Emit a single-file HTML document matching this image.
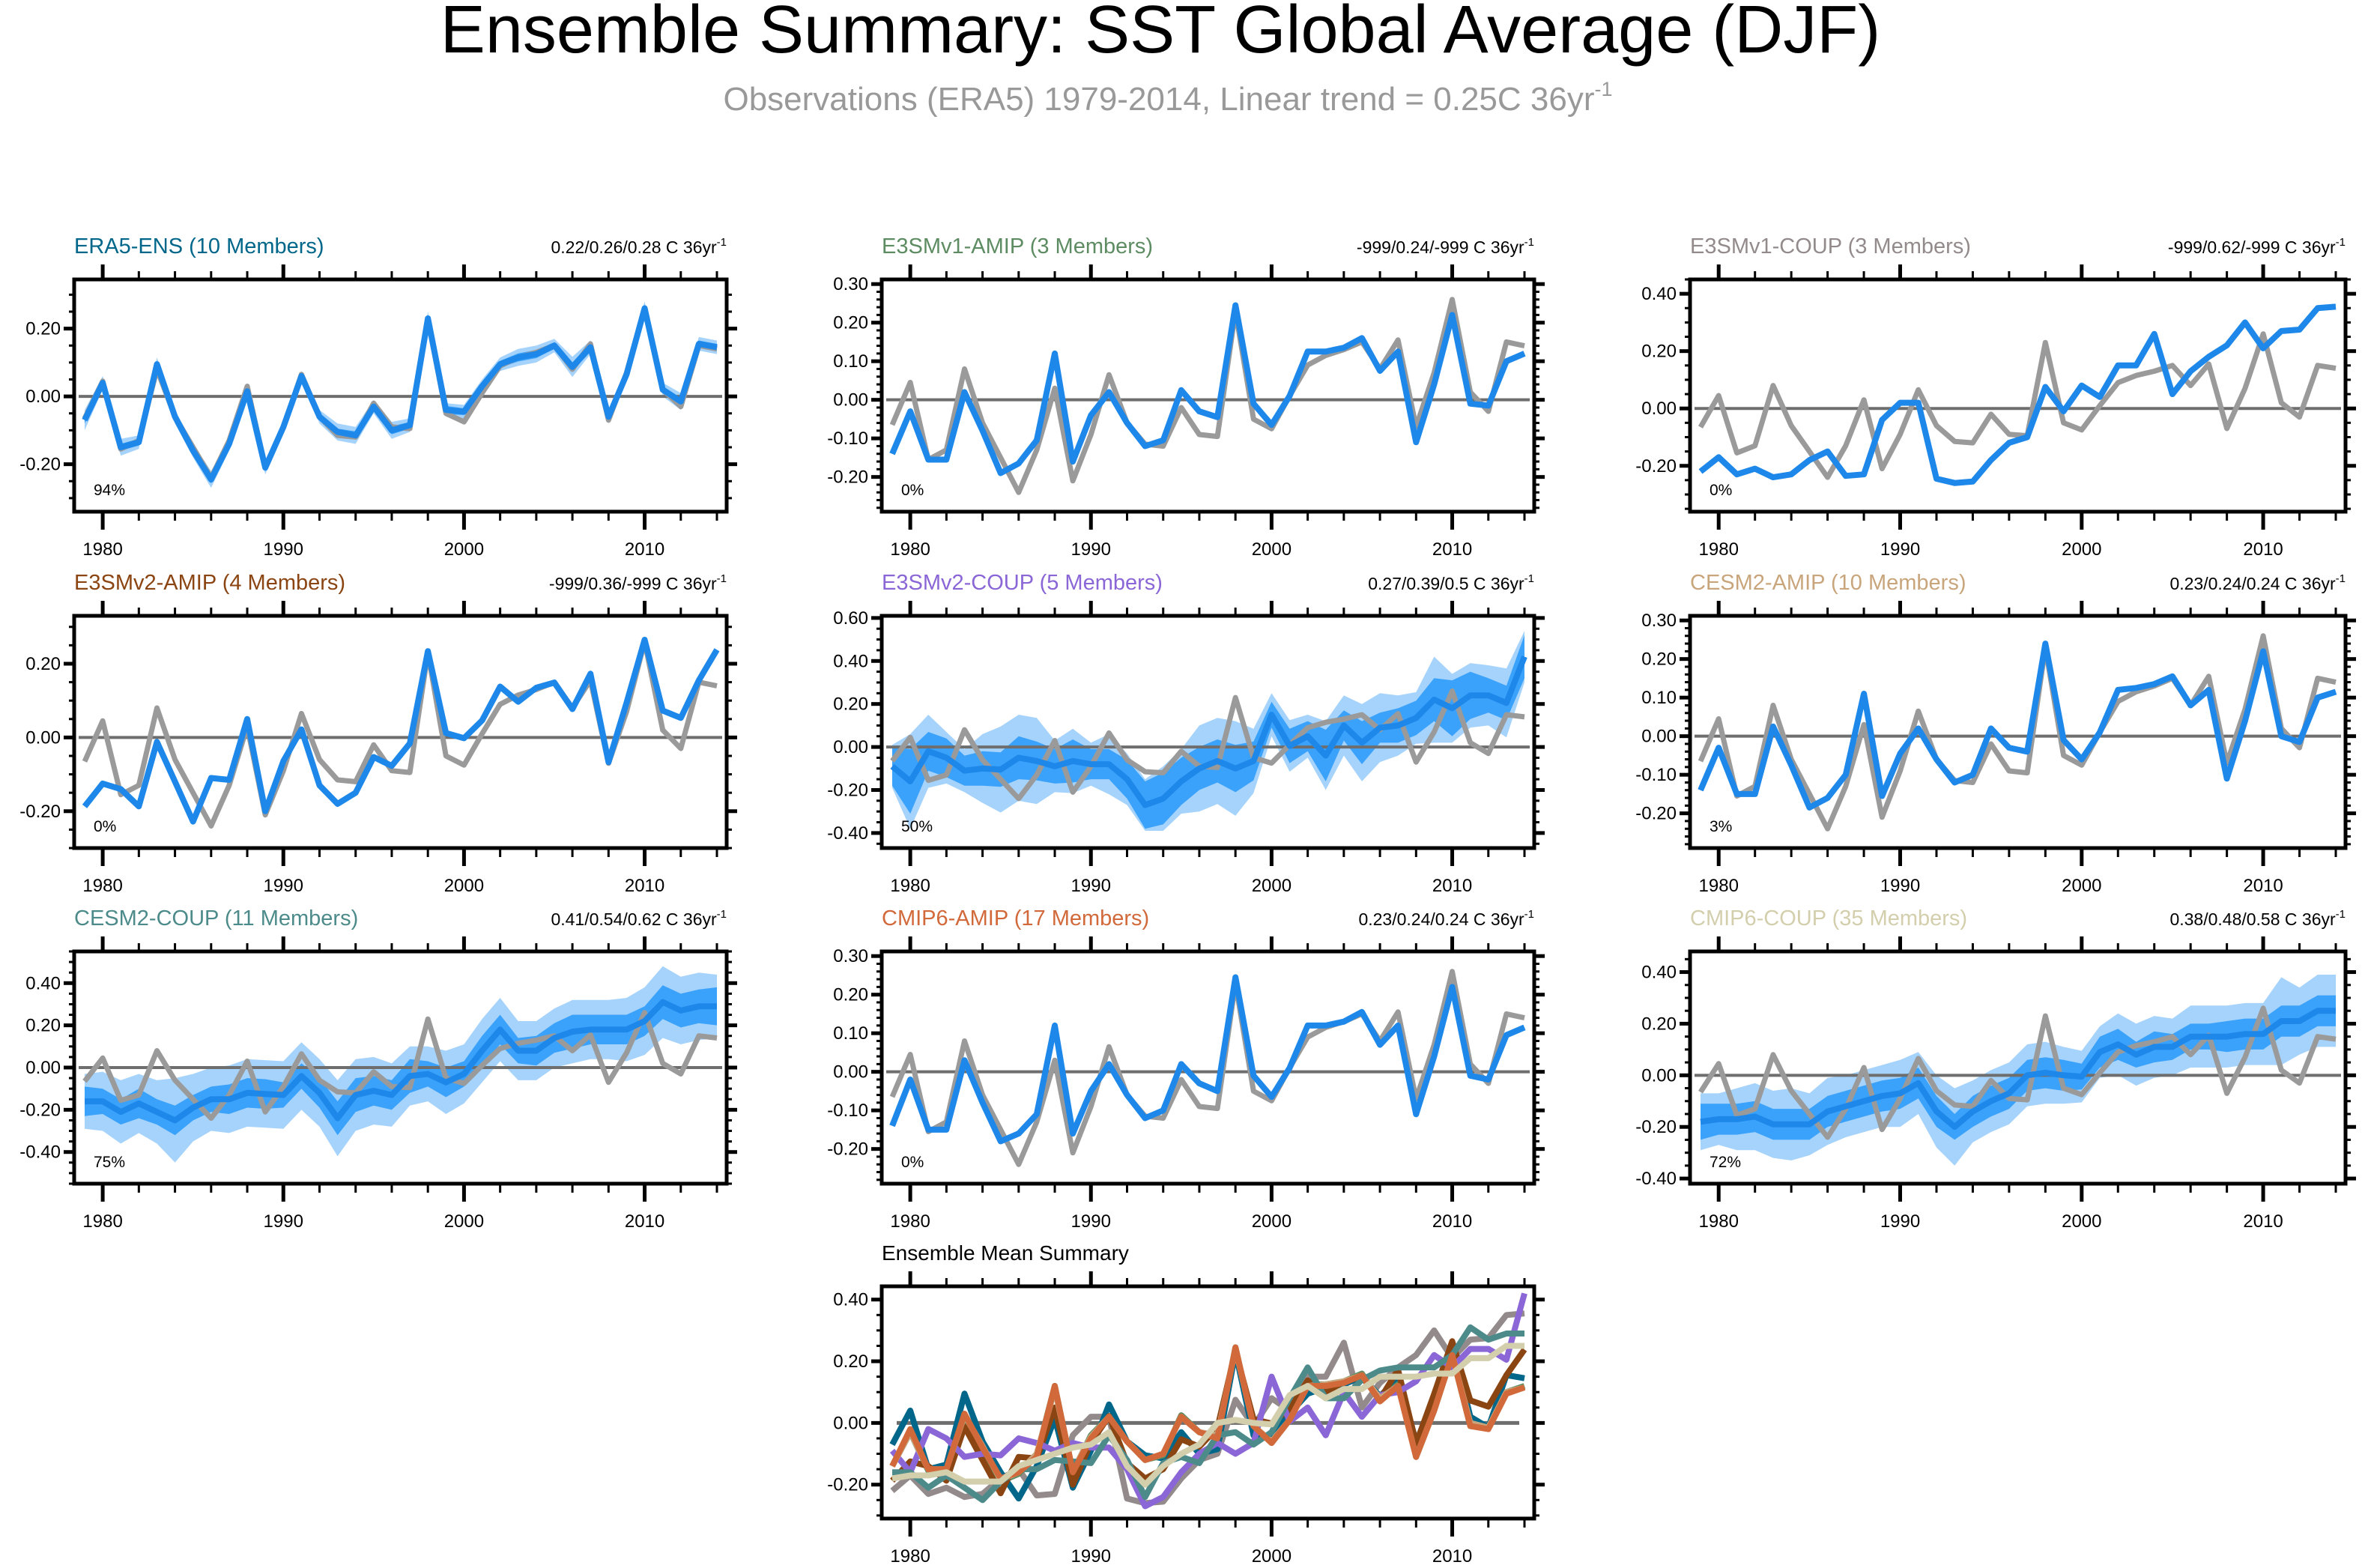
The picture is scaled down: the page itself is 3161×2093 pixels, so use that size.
<!DOCTYPE html>
<html><head><meta charset="utf-8"><style>
html,body{margin:0;padding:0;background:#fff;}
svg{display:block;font-family:"Liberation Sans",Arial,sans-serif;}
</style></head><body>
<svg id="chart" width="3161" height="2093" viewBox="0 0 3161 2093" xmlns="http://www.w3.org/2000/svg">
<rect width="3161" height="2093" fill="#fff"/>
<text x="1549" y="70" font-size="90" text-anchor="middle" fill="#000">Ensemble Summary: SST Global Average (DJF)</text>
<text x="1559" y="147" font-size="44" text-anchor="middle" fill="#999">Observations (ERA5) 1979-2014, Linear trend = 0.25C 36yr<tspan font-size="27" dy="-19">-1</tspan></text>
<g id="plots"></g>
</svg>
<script>
const years = [1979,1980,1981,1982,1983,1984,1985,1986,1987,1988,1989,1990,1991,1992,1993,1994,1995,1996,1997,1998,1999,2000,2001,2002,2003,2004,2005,2006,2007,2008,2009,2010,2011,2012,2013,2014];
const obs = [-0.065,0.045,-0.155,-0.13,0.08,-0.06,-0.15,-0.24,-0.13,0.03,-0.21,-0.09,0.065,-0.06,-0.115,-0.12,-0.02,-0.09,-0.095,0.23,-0.05,-0.075,0.01,0.09,0.115,0.13,0.15,0.08,0.155,-0.07,0.07,0.26,0.02,-0.03,0.15,0.14];
const era5Mean = [-0.07,0.04,-0.15,-0.135,0.095,-0.06,-0.16,-0.245,-0.14,0.015,-0.21,-0.09,0.06,-0.06,-0.105,-0.115,-0.03,-0.10,-0.085,0.23,-0.04,-0.045,0.03,0.095,0.115,0.125,0.15,0.087,0.145,-0.06,0.065,0.26,0.02,-0.015,0.155,0.145];
const era5Inner = [0.01,0.01,0.01,0.01,0.01,0.01,0.01,0.012,0.01,0.01,0.01,0.01,0.01,0.01,0.01,0.012,0.01,0.012,0.01,0.01,0.012,0.01,0.01,0.01,0.012,0.012,0.01,0.012,0.01,0.01,0.01,0.01,0.01,0.01,0.01,0.01];
const era5Outer = [0.03,0.02,0.025,0.02,0.02,0.02,0.02,0.025,0.02,0.02,0.02,0.02,0.015,0.02,0.025,0.025,0.02,0.025,0.02,0.02,0.02,0.02,0.02,0.02,0.025,0.025,0.02,0.03,0.02,0.02,0.02,0.02,0.02,0.025,0.02,0.02];
const e3v1AmipMean = [-0.14,-0.03,-0.155,-0.155,0.02,-0.08,-0.19,-0.165,-0.105,0.12,-0.16,-0.04,0.02,-0.06,-0.12,-0.105,0.025,-0.03,-0.045,0.245,-0.01,-0.065,0.01,0.125,0.125,0.135,0.16,0.075,0.125,-0.11,0.04,0.22,-0.01,-0.015,0.10,0.12];
const e3v1CoupMean = [-0.22,-0.17,-0.23,-0.21,-0.24,-0.23,-0.18,-0.15,-0.235,-0.23,-0.04,0.02,0.02,-0.245,-0.26,-0.255,-0.18,-0.12,-0.10,0.075,-0.01,0.08,0.04,0.15,0.15,0.26,0.05,0.13,0.18,0.22,0.30,0.21,0.27,0.275,0.35,0.355];
const e3v2AmipMean = [-0.187,-0.125,-0.14,-0.187,-0.012,-0.12,-0.228,-0.11,-0.115,0.05,-0.2,-0.064,0.022,-0.13,-0.18,-0.15,-0.053,-0.077,-0.016,0.234,0.012,-0.002,0.046,0.138,0.097,0.135,0.149,0.077,0.173,-0.067,0.094,0.265,0.073,0.053,0.155,0.238];
const e3v2CoupMean = [-0.09,-0.16,-0.02,-0.05,-0.11,-0.10,-0.105,-0.05,-0.065,-0.09,-0.065,-0.08,-0.08,-0.15,-0.27,-0.24,-0.16,-0.10,-0.065,-0.10,-0.065,0.15,0.005,0.05,-0.04,0.10,0.02,0.09,0.10,0.135,0.22,0.18,0.24,0.24,0.205,0.42];
const e3v2CoupInner = [0.09,0.15,0.09,0.09,0.07,0.08,0.08,0.10,0.09,0.08,0.10,0.07,0.07,0.09,0.11,0.12,0.11,0.10,0.10,0.11,0.09,0.06,0.08,0.07,0.12,0.07,0.10,0.07,0.08,0.08,0.10,0.13,0.11,0.08,0.08,0.10];
const e3v2CoupOuter = [0.10,0.22,0.17,0.12,0.10,0.16,0.20,0.20,0.20,0.12,0.15,0.10,0.14,0.12,0.12,0.15,0.15,0.20,0.20,0.22,0.15,0.10,0.12,0.10,0.16,0.14,0.18,0.16,0.14,0.12,0.20,0.16,0.15,0.14,0.16,0.12];
const cesmAmipMean = [-0.14,-0.03,-0.15,-0.15,0.025,-0.075,-0.185,-0.16,-0.1,0.11,-0.155,-0.045,0.02,-0.06,-0.12,-0.1,0.02,-0.03,-0.04,0.24,-0.01,-0.06,0.01,0.12,0.125,0.135,0.155,0.08,0.12,-0.11,0.04,0.22,0.0,-0.015,0.10,0.115];
const cesmCoupMean = [-0.16,-0.16,-0.21,-0.17,-0.21,-0.25,-0.19,-0.15,-0.15,-0.12,-0.125,-0.13,-0.04,-0.12,-0.24,-0.13,-0.11,-0.13,-0.04,-0.03,-0.07,-0.03,0.08,0.18,0.08,0.08,0.14,0.17,0.18,0.18,0.18,0.22,0.31,0.27,0.29,0.29];
const cesmCoupInner = [0.07,0.06,0.06,0.07,0.06,0.07,0.06,0.06,0.07,0.07,0.07,0.06,0.06,0.07,0.08,0.08,0.07,0.07,0.08,0.06,0.07,0.06,0.07,0.07,0.06,0.07,0.07,0.08,0.07,0.07,0.07,0.07,0.08,0.08,0.08,0.09];
const cesmCoupOuter = [0.13,0.14,0.15,0.14,0.15,0.2,0.16,0.15,0.16,0.16,0.16,0.16,0.16,0.16,0.18,0.17,0.16,0.15,0.14,0.13,0.15,0.14,0.15,0.15,0.14,0.14,0.14,0.15,0.14,0.14,0.15,0.16,0.17,0.16,0.16,0.15];
const cmipAmipMean = [-0.14,-0.02,-0.15,-0.15,0.03,-0.08,-0.18,-0.16,-0.11,0.12,-0.16,-0.05,0.02,-0.06,-0.12,-0.10,0.02,-0.03,-0.05,0.245,-0.01,-0.065,0.01,0.12,0.12,0.13,0.155,0.07,0.12,-0.11,0.04,0.22,-0.01,-0.02,0.095,0.115];
const cmipCoupMean = [-0.18,-0.17,-0.17,-0.16,-0.19,-0.19,-0.19,-0.14,-0.12,-0.10,-0.08,-0.07,-0.03,-0.14,-0.20,-0.14,-0.10,-0.07,0.0,0.01,0.0,-0.005,0.09,0.12,0.08,0.11,0.11,0.15,0.15,0.15,0.16,0.16,0.21,0.21,0.25,0.25];
const cmipCoupInner = [0.07,0.06,0.06,0.06,0.06,0.06,0.06,0.06,0.06,0.06,0.06,0.06,0.06,0.06,0.05,0.06,0.06,0.06,0.06,0.06,0.06,0.05,0.06,0.06,0.05,0.06,0.05,0.05,0.05,0.06,0.06,0.06,0.06,0.06,0.06,0.06];
const cmipCoupOuter = [0.11,0.1,0.12,0.13,0.13,0.14,0.12,0.13,0.12,0.12,0.12,0.13,0.12,0.14,0.15,0.12,0.12,0.12,0.12,0.12,0.11,0.1,0.1,0.12,0.12,0.12,0.11,0.12,0.12,0.12,0.12,0.12,0.17,0.13,0.14,0.14];
const panelTitles = ["ERA5-ENS (10 Members)","E3SMv1-AMIP (3 Members)","E3SMv1-COUP (3 Members)","E3SMv2-AMIP (4 Members)","E3SMv2-COUP (5 Members)","CESM2-AMIP (10 Members)","CESM2-COUP (11 Members)","CMIP6-AMIP (17 Members)","CMIP6-COUP (35 Members)"];
const trendLabels = ["0.22/0.26/0.28 C 36yr","-999/0.24/-999 C 36yr","-999/0.62/-999 C 36yr","-999/0.36/-999 C 36yr","0.27/0.39/0.5 C 36yr","0.23/0.24/0.24 C 36yr","0.41/0.54/0.62 C 36yr","0.23/0.24/0.24 C 36yr","0.38/0.48/0.58 C 36yr"];
const pctLabels = ["94%","0%","0%","0%","50%","3%","75%","0%","72%"];
const yTickLabels = [["0.20","0.00","-0.20"],["0.30","0.20","0.10","0.00","-0.10","-0.20"],["0.40","0.20","0.00","-0.20"],["0.20","0.00","-0.20"],["0.60","0.40","0.20","0.00","-0.20","-0.40"],["0.30","0.20","0.10","0.00","-0.10","-0.20"],["0.40","0.20","0.00","-0.20","-0.40"],["0.30","0.20","0.10","0.00","-0.10","-0.20"],["0.40","0.20","0.00","-0.20","-0.40"]];
const summaryTickLabels = ["0.40","0.20","0.00","-0.20"];
const xTickLabels = ["1980","1990","2000","2010"];

const means = [era5Mean,e3v1AmipMean,e3v1CoupMean,e3v2AmipMean,e3v2CoupMean,cesmAmipMean,cesmCoupMean,cmipAmipMean,cmipCoupMean];
const inners = [era5Inner,null,null,null,e3v2CoupInner,null,cesmCoupInner,null,cmipCoupInner];
const outers = [era5Outer,null,null,null,e3v2CoupOuter,null,cesmCoupOuter,null,cmipCoupOuter];
const colors = ["#00668a","#5e8c62","#938b8b","#8b4513","#8a66d6","#c9a57c","#4d8b8b","#d2693a","#d3cfad"];
const names = ["era5-ens","e3smv1-amip","e3smv1-coup","e3smv2-amip","e3smv2-coup","cesm2-amip","cesm2-coup","cmip6-amip","cmip6-coup"];
// layout (not data)
const colX = [[99,970],[1177,2048],[2256,3131]];
const rowY = [373,822,1270];
const ranges = [[-0.34,0.345],[-0.29,0.312],[-0.36,0.45],[-0.30,0.33],[-0.47,0.61],[-0.29,0.312],[-0.55,0.55],[-0.29,0.312],[-0.42,0.48]];
const minorSteps = [0.05,0.02,0.05,0.05,0.05,0.02,0.05,0.02,0.05];
const H = 310;
const NS = "http://www.w3.org/2000/svg";
const root = document.getElementById('plots');
function mk(tag, attrs, parent){const e=document.createElementNS(NS,tag);for(const k in attrs)e.setAttribute(k,attrs[k]);(parent||root).appendChild(e);return e;}
function makeX(L,R){return y=>L+14+(y-1979)*((R-L-27)/35);}
function makeY(T,mn,mx){return v=>T+(mx-v)/(mx-mn)*H;}
function pathOf(xs,vals,ys){return vals.map((v,i)=>(i?'L':'M')+xs(years[i]).toFixed(1)+','+ys(v).toFixed(1)).join('');}
function bandOf(xs,mean,sp,ys){let up=mean.map((v,i)=>xs(years[i]).toFixed(1)+','+ys(v+sp[i]).toFixed(1));let dn=mean.map((v,i)=>xs(years[i]).toFixed(1)+','+ys(v-sp[i]).toFixed(1)).reverse();return 'M'+up.join('L')+'L'+dn.join('L')+'Z';}

function frame(g,L,R,T,mn,mx,minor,labels,xs,ys){
  const B=T+H;
  for(let yr=1980;yr<=2014;yr+=2){
    const x=xs(yr);const major=(yr%10===0);
    const t1=mk('line',{x1:x,x2:x,y1:T,y2:T-(major?20:11),stroke:'#000','stroke-width':major?5:3},g);
    
    
    const t2=mk('line',{x1:x,x2:x,y1:B,y2:B+(major?24:12),stroke:'#000','stroke-width':major?5:3},g);
    
    
  }
  xTickLabels.forEach(s=>{
    const t=mk('text',{x:xs(+s),y:B+58,'font-size':24,'text-anchor':'middle',fill:'#000'},g);t.textContent=s;
    
    
  });
  const n0=Math.ceil(mn/minor-1e-6),n1=Math.floor(mx/minor+1e-6);
  const majorVals=labels.map(parseFloat);
  for(let k=n0;k<=n1;k++){
    const v=k*minor;const y=ys(v);
    const major=majorVals.some(m=>Math.abs(m-v)<1e-6);
    const a=mk('line',{x1:L,x2:L-(major?14:7),y1:y,y2:y,stroke:'#000','stroke-width':major?5:3},g);
    
    
    const b=mk('line',{x1:R,x2:R+(major?14:7),y1:y,y2:y,stroke:'#000','stroke-width':major?5:3},g);
    
    
  }
  labels.forEach(s=>{
    const t=mk('text',{x:L-18,y:ys(parseFloat(s))+8,'font-size':24,'text-anchor':'end',fill:'#000'},g);t.textContent=s;
    
    
  });
}

for(let p=0;p<9;p++){
  const [L,R]=colX[p%3];const T=rowY[Math.floor(p/3)];const [mn,mx]=ranges[p];
  const g=mk('g',{});
  
  
  const xs=makeX(L,R),ys=makeY(T,mn,mx);
  mk('rect',{x:L,y:T,width:R-L,height:H,fill:'#fff'},g);
  if(outers[p]){
    const o=mk('path',{d:bandOf(xs,means[p],outers[p],ys),fill:'#a6d3fb'},g);
    
    
    const i=mk('path',{d:bandOf(xs,means[p],inners[p],ys),fill:'#3ba2fb'},g);
    
    
  }
  const z=mk('line',{x1:L+6,x2:R-6,y1:ys(0),y2:ys(0),stroke:'#6e6e6e','stroke-width':4},g);
  
  
  const ob=mk('path',{d:pathOf(xs,obs,ys),fill:'none',stroke:'#9a9a9a','stroke-width':7,'stroke-linejoin':'round'},g);
  
  
  const ml=mk('path',{d:pathOf(xs,means[p],ys),fill:'none',stroke:'#1e88ea','stroke-width':8,'stroke-linejoin':'round'},g);
  
  
  const fr=mk('rect',{x:L,y:T,width:R-L,height:H,fill:'none',stroke:'#000','stroke-width':5},g);
  
  
  frame(g,L,R,T,mn,mx,minorSteps[p],yTickLabels[p],xs,ys);
  const tt=mk('text',{x:L,y:T-35,'font-size':29,fill:colors[p]},g);tt.textContent=panelTitles[p];
  
  
  const tr=mk('text',{x:R,y:T-35,'font-size':23,'text-anchor':'end',fill:'#000'},g);tr.textContent=trendLabels[p];
  
  
  const sup=mk('tspan',{'font-size':15,dy:-10},tr);sup.textContent='-1';
  const pc=mk('text',{x:L+26,y:T+H-22,'font-size':21,fill:'#000'},g);pc.textContent=pctLabels[p];
  
  
}

(function(){
  const L=1177,R=2048,T=1717,mn=-0.31,mx=0.443;
  const g=mk('g',{});
  
  
  const xs=makeX(L,R),ys=makeY(T,mn,mx);
  const z=mk('line',{x1:L+20,x2:R-20,y1:ys(0),y2:ys(0),stroke:'#6e6e6e','stroke-width':5},g);
  
  
  const order=[2,0,1,3,4,5,6,7,8];
  order.forEach(p=>{
    const l=mk('path',{d:pathOf(xs,means[p],ys),fill:'none',stroke:colors[p],'stroke-width':8,'stroke-linejoin':'round'},g);
    
    
  });
  const fr=mk('rect',{x:L,y:T,width:R-L,height:H,fill:'none',stroke:'#000','stroke-width':5},g);
  
  
  frame(g,L,R,T,mn,mx,0.05,summaryTickLabels,xs,ys);
  const tt=mk('text',{x:L,y:T-35,'font-size':28,fill:'#000'},g);tt.textContent='Ensemble Mean Summary';
  
  
})();
</script>
</body></html>
